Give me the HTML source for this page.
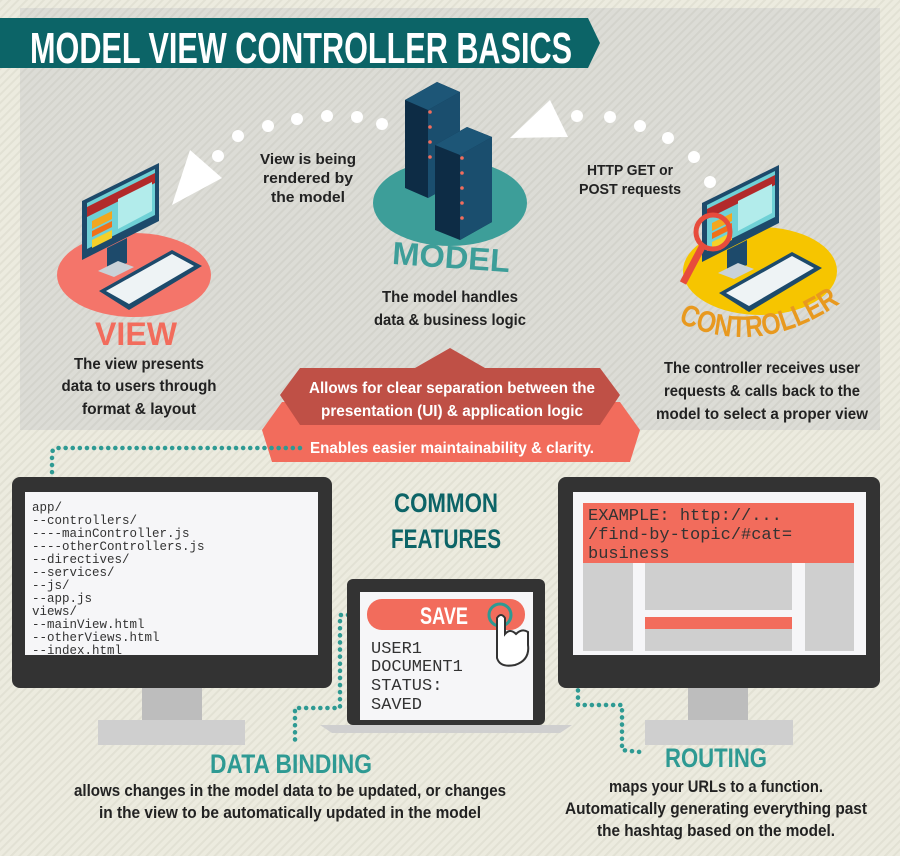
<!DOCTYPE html>
<html><head><meta charset="utf-8"><style>
html,body{margin:0;padding:0;width:900px;height:856px;overflow:hidden;background:#ecebdf}
svg{display:block}
text{font-family:"Liberation Sans",sans-serif;font-weight:bold}
.d{fill:#222;font-size:17px}
.m text{font-family:"Liberation Mono",monospace;font-weight:normal;fill:#333}
</style></head><body>
<svg width="900" height="856" viewBox="0 0 900 856" xmlns="http://www.w3.org/2000/svg">
<defs>
<pattern id="st" width="6" height="6" patternUnits="userSpaceOnUse" patternTransform="rotate(45)">
<rect width="6" height="6" fill="#ecebdf"/><rect width="2" height="6" fill="#e2e1d4"/></pattern>
<pattern id="st2" width="6" height="6" patternUnits="userSpaceOnUse" patternTransform="rotate(45)">
<rect width="6" height="6" fill="#dcdcd6"/><rect width="2" height="6" fill="#d3d3cc"/></pattern>
<g id="pc">
<polygon points="20,38 97,0 97,58 20,97" fill="#1d4a6b"/>
<polygon points="25,40 93,6 93,52 25,86" fill="#6fd1d6"/>
<polygon points="25,44 93,10 93,20 25,54" fill="#b22a2a"/>
<polygon points="56,36 90,19 90,48 56,66" fill="#b2eceb"/>
<polygon points="30,58 50,48 50,56 30,66" fill="#f2a71e"/>
<polygon points="30,68 50,58 50,64 30,74" fill="#f27018"/>
<polygon points="30,77 50,67 50,75 30,85" fill="#f5d029"/>
<polygon points="45,85 65,75 65,100 45,108" fill="#1d4a6b"/>
<polygon points="36,108 56,98 72,104 52,114" fill="#c9d2d8"/>
<polygon points="37,128 110,87 140,103 67,147" fill="#1d4a6b"/>
<polygon points="44,128 110,91 132,103 67,141" fill="#eef3f5"/>
</g>
</defs>
<rect width="900" height="856" fill="url(#st)"/>
<rect x="20" y="8" width="860" height="422" fill="url(#st2)"/>
<polygon points="0,18 588,18 600,43 588,68 0,68" fill="#0c6467"/>
<text x="30" y="63" fill="#fff" font-size="44" textLength="542" lengthAdjust="spacingAndGlyphs">MODEL VIEW CONTROLLER BASICS</text>
<g fill="#fff">
<circle cx="218" cy="156" r="6"/><circle cx="238" cy="136" r="6"/><circle cx="268" cy="126" r="6"/><circle cx="297" cy="119" r="6"/><circle cx="327" cy="116" r="6"/><circle cx="357" cy="117" r="6"/><circle cx="382" cy="124" r="6"/>
<polygon points="190,150 222,178 172,205"/>
<polygon points="550,100 568,137 510,138"/>
<circle cx="577" cy="116" r="6"/><circle cx="610" cy="117" r="6"/><circle cx="640" cy="126" r="6"/><circle cx="668" cy="138" r="6"/><circle cx="694" cy="157" r="6"/><circle cx="710" cy="182" r="6"/>
</g>
<ellipse cx="134" cy="275" rx="77" ry="42" fill="#f4756a"/>
<ellipse cx="450" cy="203" rx="77" ry="43" fill="#3d9e99"/>
<ellipse cx="760" cy="271" rx="77" ry="44" fill="#f6c500"/>
<use href="#pc" x="62" y="163"/>
<use href="#pc" x="682" y="165"/>
<circle cx="713" cy="232" r="17" fill="none" stroke="#e74c3c" stroke-width="5"/>
<line x1="702" y1="247" x2="683" y2="283" stroke="#e74c3c" stroke-width="7"/>
<g>
<polygon points="405,100 437,82 460,92 460,180 428,198 405,188" fill="#0d2c45"/>
<polygon points="428,110 460,92 460,180 428,198" fill="#1a4e6e"/>
<polygon points="405,100 437,82 460,92 428,110" fill="#1d5677"/>
<polygon points="435,145 467,127 492,137 492,222 460,240 435,230" fill="#0d2c45"/>
<polygon points="460,155 492,137 492,222 460,240" fill="#1a4e6e"/>
<polygon points="435,145 467,127 492,137 460,155" fill="#1d5677"/>
<g fill="#f26c5c"><circle cx="430" cy="112" r="1.8"/><circle cx="430" cy="127" r="1.8"/><circle cx="430" cy="142" r="1.8"/><circle cx="430" cy="157" r="1.8"/><circle cx="462" cy="158" r="1.8"/><circle cx="462" cy="173" r="1.8"/><circle cx="462" cy="188" r="1.8"/><circle cx="462" cy="203" r="1.8"/><circle cx="462" cy="218" r="1.8"/></g>
</g>
<text x="95" y="345" fill="#f26c5c" font-size="32" textLength="82" lengthAdjust="spacingAndGlyphs">VIEW</text>
<text x="392" y="268" fill="#3d9e99" font-size="32" textLength="118" lengthAdjust="spacingAndGlyphs" transform="rotate(4 450 260)">MODEL</text>
<path id="cp" d="M678,322 Q760,360 842,302" fill="none"/>
<text fill="#e8991f" font-size="30"><textPath href="#cp" textLength="172" lengthAdjust="spacingAndGlyphs">CONTROLLER</textPath></text>
<g class="d" text-anchor="middle">
<text x="308" y="164" font-size="15" textLength="96" lengthAdjust="spacingAndGlyphs">View is being</text>
<text x="308" y="183" font-size="15" textLength="90" lengthAdjust="spacingAndGlyphs">rendered by</text>
<text x="308" y="202" font-size="15" textLength="74" lengthAdjust="spacingAndGlyphs">the model</text>
<text x="630" y="175" font-size="15" textLength="86" lengthAdjust="spacingAndGlyphs">HTTP GET or</text>
<text x="630" y="194" font-size="15" textLength="102" lengthAdjust="spacingAndGlyphs">POST requests</text>
<text x="450" y="302" font-size="16" textLength="136" lengthAdjust="spacingAndGlyphs">The model handles</text>
<text x="450" y="325" font-size="16" textLength="152" lengthAdjust="spacingAndGlyphs">data &amp; business logic</text>
<text x="139" y="369" font-size="16" textLength="130" lengthAdjust="spacingAndGlyphs">The view presents</text>
<text x="139" y="391" font-size="16" textLength="155" lengthAdjust="spacingAndGlyphs">data to users through</text>
<text x="139" y="414" font-size="16" textLength="114" lengthAdjust="spacingAndGlyphs">format &amp; layout</text>
<text x="762" y="373" font-size="16" textLength="196" lengthAdjust="spacingAndGlyphs">The controller receives user</text>
<text x="762" y="396" font-size="16" textLength="196" lengthAdjust="spacingAndGlyphs">requests &amp; calls back to the</text>
<text x="762" y="419" font-size="16" textLength="212" lengthAdjust="spacingAndGlyphs">model to select a proper view</text>
</g>
<polygon points="262,430 282,402 620,402 640,430 630,462 272,462" fill="#f26c5c"/>
<polygon points="280,395 300,368 415,368 450,348 485,368 600,368 620,395 600,425 300,425" fill="#bf5046"/>
<g fill="#fff" text-anchor="middle" font-size="16">
<text x="452" y="393" textLength="286" lengthAdjust="spacingAndGlyphs">Allows for clear separation between the</text>
<text x="452" y="416" textLength="262" lengthAdjust="spacingAndGlyphs">presentation (UI) &amp; application logic</text>
<text x="452" y="453" textLength="284" lengthAdjust="spacingAndGlyphs">Enables easier maintainability &amp; clarity.</text>
</g>
<g fill="none" stroke="#2e9a93" stroke-width="4.5" stroke-linecap="round" stroke-dasharray="0.1 7">
<path d="M300,448 H57 Q52,448 52,455 V490"/>
<path d="M412,615 H340 V708 H295 V745"/>
<path d="M578,520 V705 H622 V750 L640,752"/>
</g>
<rect x="12" y="477" width="320" height="211" rx="8" fill="#333"/>
<rect x="25" y="492" width="293" height="163" fill="#f6f6f8"/>
<rect x="142" y="688" width="60" height="32" fill="#bdbdbd"/>
<rect x="98" y="720" width="147" height="25" fill="#cfcfcf"/>
<g class="m" font-size="12.5">
<text x="32" y="511">app/</text><text x="32" y="524">--controllers/</text><text x="32" y="537">----mainController.js</text><text x="32" y="550">----otherControllers.js</text><text x="32" y="563">--directives/</text><text x="32" y="576">--services/</text><text x="32" y="589">--js/</text><text x="32" y="602">--app.js</text><text x="32" y="615">views/</text><text x="32" y="628">--mainView.html</text><text x="32" y="641">--otherViews.html</text><text x="32" y="654">--index.html</text>
</g>
<rect x="558" y="477" width="322" height="211" rx="8" fill="#333"/>
<rect x="573" y="492" width="293" height="163" fill="#f6f6f8"/>
<rect x="688" y="688" width="60" height="32" fill="#bdbdbd"/>
<rect x="645" y="720" width="148" height="25" fill="#cfcfcf"/>
<rect x="583" y="563" width="50" height="88" fill="#cfcfcf"/>
<rect x="645" y="563" width="147" height="47" fill="#cfcfcf"/>
<rect x="645" y="617" width="147" height="12" fill="#f26c5c"/>
<rect x="645" y="629" width="147" height="22" fill="#cfcfcf"/>
<rect x="805" y="563" width="49" height="88" fill="#cfcfcf"/>
<rect x="583" y="503" width="271" height="60" fill="#f26c5c"/>
<g class="m" font-size="17">
<text x="588" y="520">EXAMPLE: http://...</text><text x="588" y="539">/find-by-topic/#cat=</text><text x="588" y="558">business</text>
</g>
<rect x="347" y="579" width="198" height="146" rx="6" fill="#333"/>
<rect x="360" y="592" width="173" height="128" fill="#f6f6f8"/>
<path d="M320,725 H572 L560,733 H332 Z" fill="#cfcfcf"/>
<rect x="367" y="599" width="158" height="31" rx="15" fill="#f26c5c"/>
<text x="420" y="624" fill="#fff" font-size="24" textLength="48" lengthAdjust="spacingAndGlyphs">SAVE</text>
<circle cx="500" cy="615" r="11" fill="none" stroke="#2e9a93" stroke-width="3"/>
<path d="M497,618 V658 Q500,668 515,665 Q530,660 528,645 V632 Q522,628 516,634 Q510,628 505,634 V618 Q501,612 497,618 Z" fill="#fff" stroke="#333" stroke-width="2"/>
<g class="m" font-size="17">
<text x="371" y="653">USER1</text><text x="371" y="671">DOCUMENT1</text><text x="371" y="690">STATUS:</text><text x="371" y="709">SAVED</text>
</g>
<g fill="#0c6467" text-anchor="middle" font-size="27">
<text x="446" y="512" textLength="104" lengthAdjust="spacingAndGlyphs">COMMON</text>
<text x="446" y="548" textLength="110" lengthAdjust="spacingAndGlyphs">FEATURES</text>
</g>
<g fill="#2e9a93" font-size="27">
<text x="210" y="773" textLength="162" lengthAdjust="spacingAndGlyphs">DATA BINDING</text>
<text x="665" y="767" textLength="102" lengthAdjust="spacingAndGlyphs">ROUTING</text>
</g>
<g class="d" text-anchor="middle" font-size="16">
<text x="290" y="796" textLength="432" lengthAdjust="spacingAndGlyphs">allows changes in the model data to be updated, or changes</text>
<text x="290" y="818" textLength="382" lengthAdjust="spacingAndGlyphs">in the view to be automatically updated in the model</text>
<text x="716" y="792" textLength="214" lengthAdjust="spacingAndGlyphs">maps your URLs to a function.</text>
<text x="716" y="814" textLength="302" lengthAdjust="spacingAndGlyphs">Automatically generating everything past</text>
<text x="716" y="836" textLength="238" lengthAdjust="spacingAndGlyphs">the hashtag based on the model.</text>
</g>
</svg>
</body></html>
